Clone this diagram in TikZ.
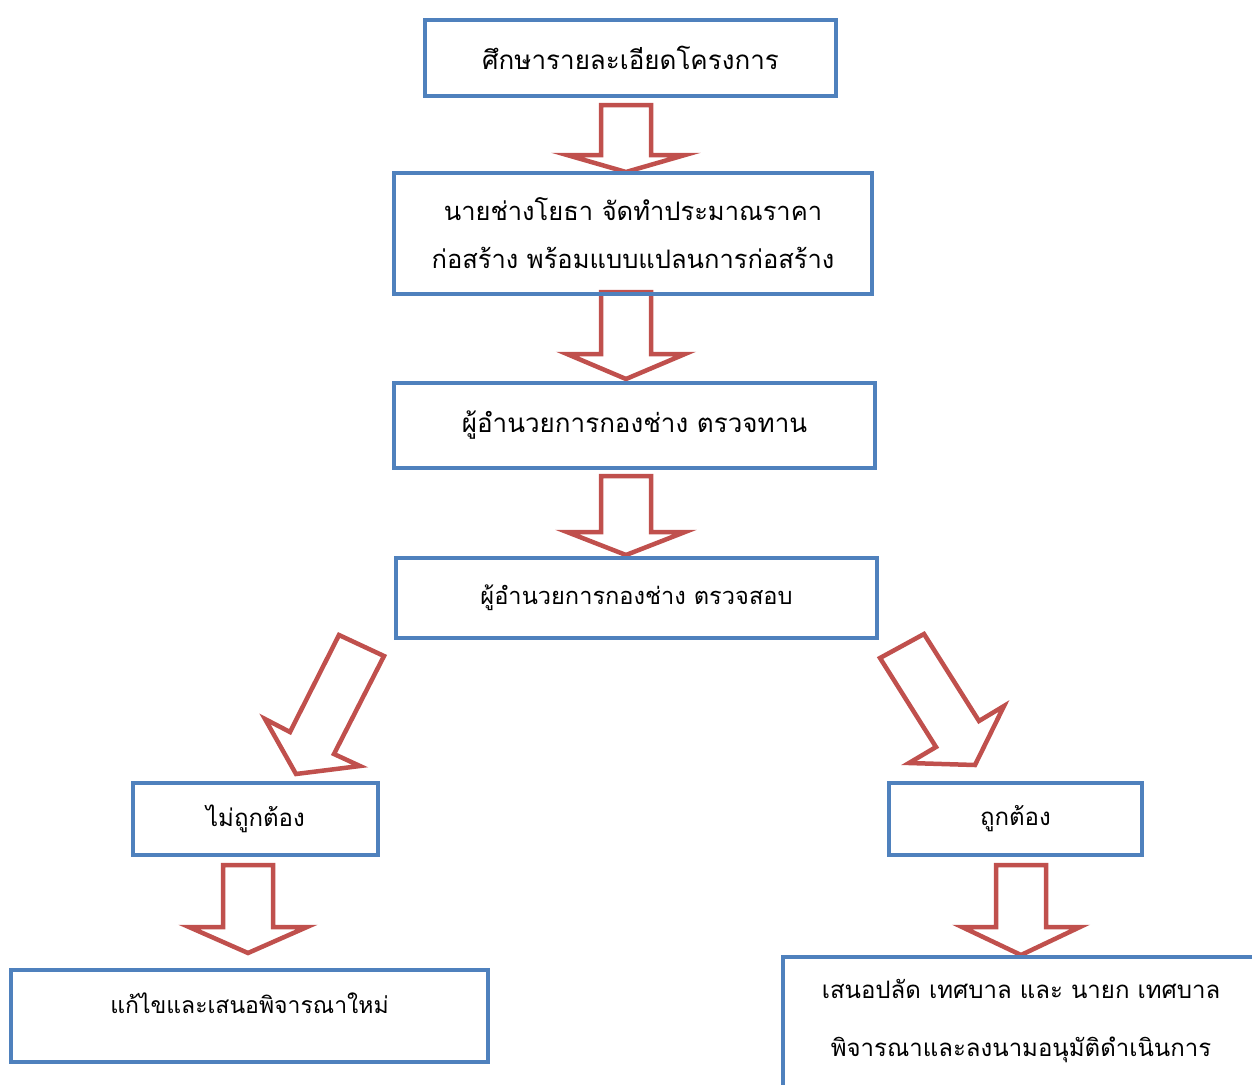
\documentclass[tikz,border=0pt]{standalone}
\usepackage{fontspec}
\newfontfamily\thaifont[Script=Thai]{Loma}
\usetikzlibrary{calc}
\definecolor{boxblue}{HTML}{4F81BD}
\definecolor{arrred}{HTML}{C0504D}
\newcommand\blockdown[3]{%
  \draw[blockarrow] let \p1=(#1), \p2=(#2) in
    ({\x1-25pt},{\y1}) -- ({\x1+25pt},{\y1}) -- ({\x1+25pt},{\y2+#3}) --
    ({\x1+59pt},{\y2+#3}) -- ({\x1},{\y2}) -- ({\x1-59pt},{\y2+#3}) --
    ({\x1-25pt},{\y2+#3}) -- cycle;}
\begin{document}
\begin{tikzpicture}[x=1pt,y=-1pt,
  box/.style={draw=boxblue,line width=4.5pt,inner sep=0pt,align=center,
    font=\thaifont\fontsize{26}{48}\selectfont},
  boxtext/.style={inner sep=0pt,align=center,font=\thaifont\fontsize{24}{58}\selectfont},
  blockarrow/.style={draw=arrred,line width=4.5pt,line join=miter,fill=white}]
\useasboundingbox (0,0) rectangle (1252,1084);
\clip (0,0) rectangle (1252,1084);
% arrow end points
\coordinate (a1s) at (626,105);  \coordinate (a1e) at (626,172);
\coordinate (a2s) at (626,292);  \coordinate (a2e) at (626,379);
\coordinate (a3s) at (626,476);  \coordinate (a3e) at (626,555);
\coordinate (a4s) at (248,865);  \coordinate (a4e) at (248,953);
\coordinate (a5s) at (1021,865); \coordinate (a5e) at (1021,955);
% block arrows
\blockdown{a1s}{a1e}{17pt}
\blockdown{a2s}{a2e}{25pt}
\blockdown{a3s}{a3e}{23pt}
\blockdown{a4s}{a4e}{26pt}
\blockdown{a5s}{a5e}{28pt}
\draw[blockarrow] (339,635) -- (384,656) -- (334,754) -- (360,766) -- (296,774)
  -- (265,719) -- (290,732) -- cycle;
\draw[blockarrow] (880,658) -- (924,634) -- (979,721) -- (1004,706) -- (975,765)
  -- (909,763) -- (936,747) -- cycle;
% boxes
\node[box,minimum width=411,minimum height=76] (b1) at (630.5,58) {ศึกษารายละเอียดโครงการ};
\node[box,minimum width=478,minimum height=121,font=\thaifont\fontsize{25.5}{48}\selectfont] (b2) at (633,233.5)
  {นายช่างโยธา จัดทำประมาณราคา\\ก่อสร้าง พร้อมแบบแปลนการก่อสร้าง};
\node[box,minimum width=481,minimum height=85] (b3) at (634.5,425.5) {ผู้อำนวยการกองช่าง ตรวจทาน};
\node[box,minimum width=481,minimum height=80,font=\thaifont\fontsize{23.6}{30}\selectfont] (b4) at (636.5,598) {ผู้อำนวยการกองช่าง ตรวจสอบ};
\node[box,minimum width=245,minimum height=72,font=\thaifont\fontsize{24}{30}\selectfont] (b5) at (255.5,819) {ไม่ถูกต้อง};
\node[box,minimum width=253,minimum height=72,font=\thaifont\fontsize{24}{30}\selectfont] (b6) at (1015.5,819) {ถูกต้อง};
\node[box,minimum width=477,minimum height=92] (b7) at (249.5,1016) {};
\node[boxtext,font=\thaifont\fontsize{23}{30}\selectfont] (t7) at (249.5,1003) {แก้ไขและเสนอพิจารณาใหม่};
\node[box,minimum width=476,minimum height=132] (b8) at (1021,1023) {};
\node[boxtext] (t8) at (1021,1021) {เสนอปลัด เทศบาล และ นายก เทศบาล\\พิจารณาและลงนามอนุมัติดำเนินการ};
\end{tikzpicture}
\end{document}
